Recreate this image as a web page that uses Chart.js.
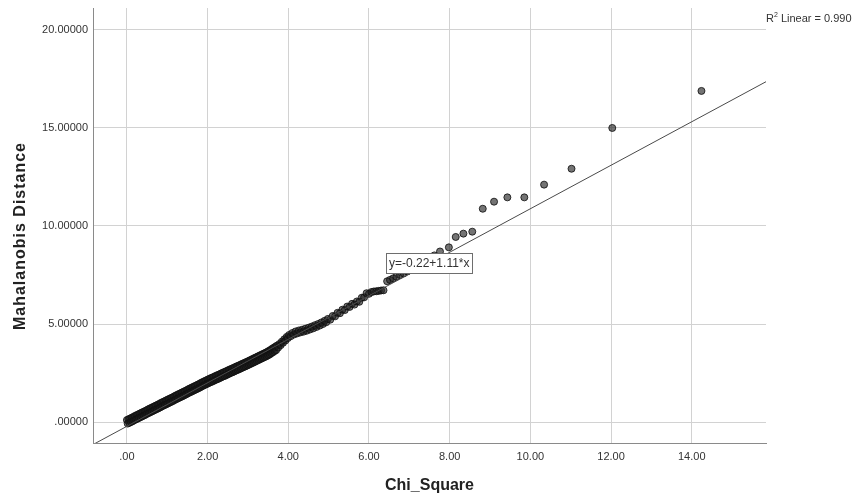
<!DOCTYPE html>
<html><head><meta charset="utf-8">
<script src="https://cdn.jsdelivr.net/npm/chart.js@4.4.1/dist/chart.umd.min.js"></script>
<style>html,body{margin:0;padding:0;background:#fff;}#wrap{width:853px;height:493px;position:relative;}</style>
</head><body><div id="wrap"><canvas id="c" width="853" height="493"></canvas></div>
<script>
const chiSquare = [
 0.00,0.02,0.04,0.06,0.08,0.10,0.12,0.14,0.16,0.18,0.20,0.22,0.24,0.26,0.28,0.30,0.32,0.34,0.36,0.38,
 0.40,0.42,0.44,0.46,0.48,0.50,0.52,0.54,0.56,0.58,0.60,0.62,0.64,0.66,0.68,0.70,0.72,0.74,0.76,0.78,
 0.80,0.82,0.84,0.86,0.88,0.90,0.92,0.94,0.96,0.98,1.00,1.02,1.04,1.06,1.08,1.10,1.12,1.14,1.16,1.18,
 1.20,1.22,1.24,1.26,1.28,1.30,1.32,1.34,1.36,1.38,1.40,1.42,1.44,1.46,1.48,1.50,1.52,1.54,1.56,1.58,
 1.60,1.62,1.64,1.66,1.68,1.70,1.72,1.74,1.76,1.78,1.80,1.82,1.84,1.86,1.88,1.90,1.92,1.94,1.96,1.98,2.00,
 2.02,2.04,2.06,2.08,2.10,2.12,2.14,2.16,2.18,2.20,2.22,2.24,2.26,2.28,2.30,2.32,2.34,2.36,2.38,2.40,
 2.42,2.44,2.46,2.48,2.50,2.52,2.54,2.56,2.58,2.60,2.62,2.64,2.66,2.68,2.70,2.72,2.74,2.76,2.78,2.80,
 2.82,2.84,2.86,2.88,2.90,2.92,2.94,2.96,2.98,3.00,
 3.02,3.04,3.06,3.08,3.10,3.12,3.14,3.16,3.18,3.20,3.22,3.24,3.26,3.28,3.30,3.32,3.34,3.36,3.38,3.40,
 3.42,3.44,3.46,3.48,3.50,3.52,3.54,3.56,3.58,3.60,3.62,3.64,3.66,3.68,3.70,3.72,
 3.75,3.78,3.81,3.84,3.87,3.90,3.93,3.96,3.99,
 4.02,4.06,4.10,4.14,4.18,4.22,4.26,4.30,4.34,4.38,4.42,4.46,4.50,4.54,4.58,4.62,4.66,4.70,4.74,4.78,
 4.82,4.86,4.90,4.94,4.98,
 5.04,5.10,5.16,5.22,5.28,5.34,5.40,5.46,5.52,5.58,5.64,5.70,5.76,5.82,5.88,5.94,6.00,
 6.06,6.12,6.18,6.24,6.30,6.36,
 6.45,6.52,6.60,6.68,6.77,6.86,6.95,7.05,7.15,7.26,7.37,7.49,7.62,7.76,
 7.98,8.15,8.34,8.56,8.82,9.10,9.43,9.85,10.34,11.02,12.03,14.24
];
const mahalanobis = [
 0.10,-0.08,0.14,-0.04,0.18,0.00,0.22,0.04,0.26,0.09,0.31,0.13,0.35,0.17,0.39,0.21,0.43,0.25,0.47,0.29,
 0.51,0.33,0.55,0.37,0.59,0.42,0.64,0.46,0.68,0.50,0.72,0.54,0.76,0.58,0.80,0.62,0.84,0.66,0.88,0.70,
 0.92,0.74,0.97,0.79,1.01,0.83,1.05,0.87,1.09,0.91,1.13,0.95,1.17,0.99,1.21,1.03,1.25,1.07,1.29,1.12,
 1.34,1.16,1.38,1.20,1.42,1.24,1.46,1.28,1.50,1.32,1.54,1.36,1.58,1.40,1.62,1.45,1.67,1.49,1.71,1.53,
 1.75,1.57,1.79,1.61,1.83,1.65,1.87,1.69,1.91,1.73,1.95,1.77,2.00,1.82,2.04,1.86,2.08,1.90,2.12,1.94,2.16,
 1.98,2.20,2.02,2.24,2.05,2.27,2.09,2.31,2.13,2.35,2.17,2.39,2.20,2.42,2.24,2.46,2.28,2.50,2.32,2.54,
 2.35,2.57,2.39,2.61,2.43,2.65,2.47,2.69,2.51,2.72,2.54,2.76,2.58,2.80,2.62,2.84,2.66,2.87,2.69,2.91,
 2.73,2.95,2.77,2.99,2.81,3.02,2.84,3.06,2.88,3.10,
 2.92,3.14,2.96,3.18,3.00,3.22,3.04,3.26,3.08,3.30,3.12,3.34,3.16,3.38,3.20,3.42,3.24,3.46,3.28,3.50,
 3.32,3.54,3.36,3.58,3.40,3.63,3.45,3.68,3.51,3.74,3.56,3.79,3.62,3.84,3.67,3.90,
 3.80,3.98,3.92,4.10,4.04,4.22,4.16,4.34,4.28,
 4.44,4.38,4.54,4.46,4.62,4.52,4.67,4.57,4.71,4.61,4.76,4.66,4.81,4.72,4.87,4.78,4.94,4.85,5.00,4.92,
 5.08,5.00,5.16,5.09,5.26,
 5.22,5.41,5.39,5.57,5.55,5.73,5.71,5.89,5.87,6.03,5.99,6.15,6.13,6.34,6.36,6.57,6.54,
 6.63,6.66,6.67,6.69,6.71,6.72,
 7.18,7.25,7.33,7.41,7.50,7.58,7.68,7.80,7.92,8.04,8.17,8.32,8.50,8.70,
 8.91,9.44,9.61,9.71,10.88,11.24,11.46,11.46,12.11,12.92,15.00,16.89
];
const fitX = [-0.84, 15.84];
const fitY = [-1.15, 17.36];
const xTicks = [0, 2, 4, 6, 8, 10, 12, 14];
const xTickLabels = ['.00', '2.00', '4.00', '6.00', '8.00', '10.00', '12.00', '14.00'];
const yTicks = [0, 5, 10, 15, 20];
const yTickLabels = ['.00000', '5.00000', '10.00000', '15.00000', '20.00000'];
const xTitle = 'Chi_Square';
const yTitle = 'Mahalanobis Distance';
const fitLabel = 'y=-0.22+1.11*x';
const r2Parts = ['R', '2', ' Linear = 0.990'];

const FONT = '"Liberation Sans", Arial, Helvetica, sans-serif';

const textPlugin = {
  id: 'texts',
  afterDatasetsDraw(chart) {
    const ctx = chart.ctx;
    const xs = chart.scales.x, ys = chart.scales.y;
    ctx.save();
    ctx.font = '12px ' + FONT;
    const tw = ctx.measureText(fitLabel).width;
    const bx = Math.round(xs.getPixelForValue(6.42)) + 0.5;
    const by = Math.round(ys.getPixelForValue(8.62)) + 0.5;
    const bw = Math.round(tw + 5), bh = 20;
    ctx.fillStyle = '#ffffff';
    ctx.fillRect(bx, by, bw, bh);
    ctx.strokeStyle = '#6e6e6e';
    ctx.lineWidth = 1;
    ctx.strokeRect(bx, by, bw, bh);
    ctx.fillStyle = '#333';
    ctx.textBaseline = 'middle';
    ctx.textAlign = 'left';
    ctx.fillText(fitLabel, bx + 2.5, by + bh / 2 + 0.5);
    ctx.restore();
  },
  afterDraw(chart) {
    const ctx = chart.ctx;
    const ca = chart.chartArea;
    ctx.save();
    ctx.fillStyle = '#222';
    ctx.font = 'bold 16px ' + FONT;
    ctx.textAlign = 'center';
    ctx.textBaseline = 'alphabetic';
    ctx.fillText(xTitle, (ca.left + ca.right) / 2, 490);
    ctx.save();
    ctx.translate(25, 236);
    ctx.rotate(-Math.PI / 2);
    try { ctx.letterSpacing = '1px'; } catch (e) {}
    ctx.fillText(yTitle, 0, 0);
    ctx.restore();
    ctx.fillStyle = '#333';
    ctx.textAlign = 'left';
    let x = 766;
    const base = 22;
    ctx.font = '11px ' + FONT;
    ctx.fillText(r2Parts[0], x, base);
    x += ctx.measureText(r2Parts[0]).width;
    ctx.font = '7px ' + FONT;
    ctx.fillText(r2Parts[1], x, base - 5);
    x += ctx.measureText(r2Parts[1]).width;
    ctx.font = '11px ' + FONT;
    ctx.fillText(r2Parts[2], x, base);
    ctx.restore();
  }
};

new Chart(document.getElementById('c'), {
  type: 'scatter',
  data: {
    datasets: [
      {
        type: 'line',
        data: fitX.map((x, i) => ({ x, y: fitY[i] })),
        borderColor: '#4a4a4a',
        borderWidth: 1,
        pointRadius: 0,
        fill: false,
        tension: 0
      },
      {
        data: chiSquare.map((x, i) => ({ x, y: mahalanobis[i] })),
        pointRadius: 3.5,
        pointBorderWidth: 1,
        backgroundColor: 'rgba(30,30,30,0.62)',
        borderColor: 'rgba(15,15,15,0.82)'
      }
    ]
  },
  options: {
    responsive: false,
    animation: false,
    events: [],
    layout: { padding: { left: 0, top: 8, right: 87, bottom: 0 } },
    plugins: { legend: { display: false }, tooltip: { enabled: false } },
    scales: {
      x: {
        type: 'linear', min: -0.84, max: 15.84,
        afterBuildTicks: s => { s.ticks = xTicks.map(v => ({ value: v })); },
        afterFit: s => { s.height = 50; s.paddingLeft = 0; s.paddingRight = 0; },
        grid: { color: '#d2d2d2', lineWidth: 1, drawTicks: false },
        border: { color: '#8a8a8a', width: 1 },
        ticks: { padding: 7, color: '#333', font: { family: FONT, size: 11 },
          maxRotation: 0, autoSkip: false,
          callback: v => xTickLabels[xTicks.indexOf(v)] }
      },
      y: {
        type: 'linear', min: -1.07, max: 21.12,
        afterBuildTicks: s => { s.ticks = yTicks.map(v => ({ value: v })); },
        afterFit: s => { s.width = 93; s.paddingTop = 0; s.paddingBottom = 0; },
        grid: { color: '#d2d2d2', lineWidth: 1, drawTicks: false },
        border: { color: '#8a8a8a', width: 1 },
        ticks: { padding: 5, color: '#333', font: { family: FONT, size: 11 },
          autoSkip: false,
          callback: v => yTickLabels[yTicks.indexOf(v)] }
      }
    }
  },
  plugins: [textPlugin]
});
</script>
</body></html>
